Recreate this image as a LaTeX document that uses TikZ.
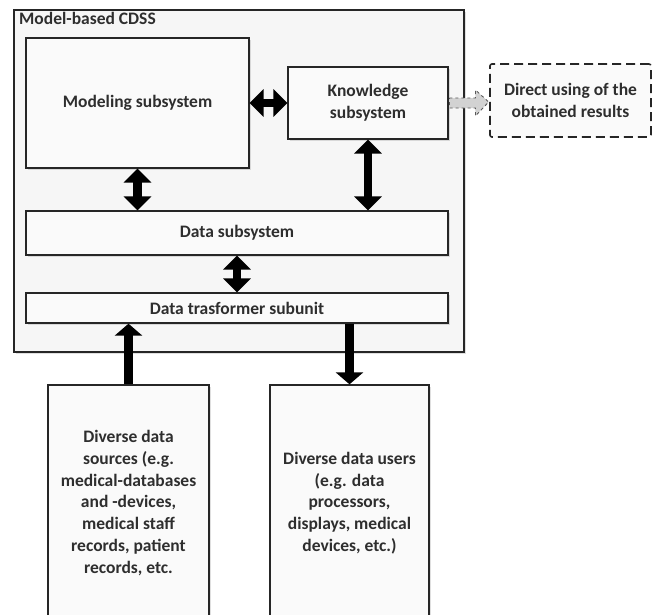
\documentclass[tikz,border=0pt]{standalone}
\usepackage{fontspec}
\setmainfont{Carlito}
\usetikzlibrary{arrows.meta,shadows,calc}
\definecolor{txt}{HTML}{2E2E2E}
\definecolor{edge}{HTML}{262626}
\definecolor{boxfill}{HTML}{FAFAFA}
\definecolor{outerfill}{HTML}{F6F6F6}
\begin{document}
\begin{tikzpicture}[x=1pt,y=-1pt,
  every node/.style={font=\fontsize{17.5}{21.7}\selectfont\bfseries, text=txt},
  blk/.style={draw=edge, line width=1.3pt, fill=boxfill, rectangle, inner sep=2pt, align=center,
    drop shadow={opacity=0.25, shadow xshift=2pt, shadow yshift=-2pt}},
  dbl/.style={line width=8.5pt, draw=black, {Triangle[width=27pt,length=14pt]}-{Triangle[width=27pt,length=14pt]}},
  sgl/.style={line width=9.5pt, draw=black, -{Triangle[width=27pt,length=12pt]}}
]
\useasboundingbox (0,0) rectangle (654,614);
\clip (0,0) rectangle (654,614);
% outer box
\node[blk, fill=outerfill, minimum width=450pt, minimum height=342pt] (outer) at (239,181) {};
\node[anchor=north west, inner sep=0pt] (title) at (19,12) {Model-based CDSS};
% inner boxes
\node[blk, minimum width=223pt, minimum height=130pt] (mod) at (137.5,103) {Modeling subsystem};
\node[blk, minimum width=160pt, minimum height=72pt] (know) at (368,103) {Knowledge\\subsystem};
\node[draw=edge, line width=1.6pt, dash pattern=on 9pt off 5pt, fill=boxfill, rounded corners=2pt, align=center,
  minimum width=161pt, minimum height=73pt] (direct) at (570.5,100.5) {Direct using of the\\obtained results};
\node[blk, minimum width=422pt, minimum height=44pt] (data) at (237,233) {Data subsystem};
\node[blk, minimum width=422pt, minimum height=30pt] (trans) at (237,308) {Data trasformer subunit};
\node[blk, minimum width=161pt, minimum height=236pt] (src) at (128.5,503)
  {Diverse data\\sources (e.g.\\medical-databases\\and -devices,\\medical staff\\records, patient\\records, etc.};
\node[blk, minimum width=159pt, minimum height=236pt] (usr) at (349.5,503)
  {Diverse data users\\(e.g. data\\processors,\\displays, medical\\devices, etc.)};
% connectors
\draw[dbl] (mod.east |- know.west) -- (know.west);
\draw[dbl] (mod.south) -- (mod.south |- data.north);
\draw[dbl] (know.south) -- (know.south |- data.north);
\draw[dbl] (data.south) -- (trans.north);
\draw[sgl] (src.north) -- (src.north |- trans.south);
\draw[sgl] (usr.north |- trans.south) -- (usr.north);
% gray hollow arrow
\draw[draw=gray!70!black, dashed, line width=0.9pt, fill=gray!35, line join=miter]
  (know.east) ++(0.8,-5) -- ++(26,0) -- ++(0,-8) -- ($(direct.west |- know.east)+(-0.5,-1)$)
  -- ($(know.east)+(26.8,13)$) -- ++(0,-8) -- ++(-26,0) -- cycle;
\end{tikzpicture}
\end{document}
